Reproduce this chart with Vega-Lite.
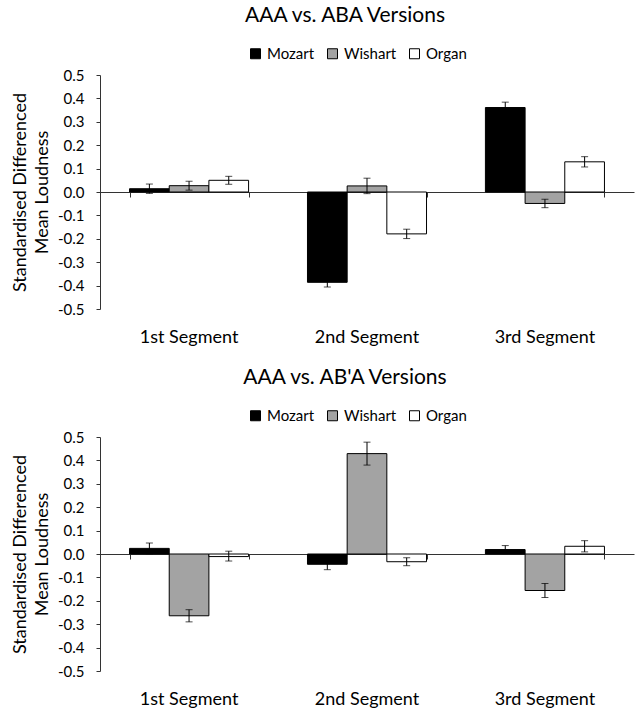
{
  "$schema": "https://vega.github.io/schema/vega-lite/v6.json",
  "background": "white",
  "padding": {"top": 5, "left": 11, "right": 5, "bottom": 0},
  "config": {
    "font": "Lato",
    "view": {"stroke": null},
    "axis": {"labelFont": "Lato", "titleFont": "Lato", "labelColor": "black", "titleColor": "black"},
    "legend": {"labelFont": "Lato"},
    "title": {"font": "Lato", "fontWeight": "normal", "color": "black"}
  },
  "datasets": {
    "top": [
      {"segment": "1st Segment", "instrument": "Mozart", "value": 0.014, "lo": -0.006, "hi": 0.034},
      {"segment": "1st Segment", "instrument": "Wishart", "value": 0.027, "lo": 0.008, "hi": 0.046},
      {"segment": "1st Segment", "instrument": "Organ", "value": 0.05, "lo": 0.033, "hi": 0.067},
      {"segment": "2nd Segment", "instrument": "Mozart", "value": -0.386, "lo": -0.406, "hi": -0.366},
      {"segment": "2nd Segment", "instrument": "Wishart", "value": 0.026, "lo": -0.007, "hi": 0.059},
      {"segment": "2nd Segment", "instrument": "Organ", "value": -0.179, "lo": -0.199, "hi": -0.159},
      {"segment": "3rd Segment", "instrument": "Mozart", "value": 0.361, "lo": 0.338, "hi": 0.384},
      {"segment": "3rd Segment", "instrument": "Wishart", "value": -0.049, "lo": -0.067, "hi": -0.031},
      {"segment": "3rd Segment", "instrument": "Organ", "value": 0.129, "lo": 0.107, "hi": 0.151}
    ],
    "bottom": [
      {"segment": "1st Segment", "instrument": "Mozart", "value": 0.024, "lo": 0.001, "hi": 0.047},
      {"segment": "1st Segment", "instrument": "Wishart", "value": -0.264, "lo": -0.29, "hi": -0.238},
      {"segment": "1st Segment", "instrument": "Organ", "value": -0.011, "lo": -0.03, "hi": 0.012},
      {"segment": "2nd Segment", "instrument": "Mozart", "value": -0.044, "lo": -0.067, "hi": -0.021},
      {"segment": "2nd Segment", "instrument": "Wishart", "value": 0.429, "lo": 0.38, "hi": 0.478},
      {"segment": "2nd Segment", "instrument": "Organ", "value": -0.033, "lo": -0.05, "hi": -0.016},
      {"segment": "3rd Segment", "instrument": "Mozart", "value": 0.019, "lo": 0.002, "hi": 0.036},
      {"segment": "3rd Segment", "instrument": "Wishart", "value": -0.156, "lo": -0.186, "hi": -0.126},
      {"segment": "3rd Segment", "instrument": "Organ", "value": 0.033, "lo": 0.009, "hi": 0.057}
    ]
  },
  "vconcat": [
    {
      "width": 534,
      "height": 234,
      "title": {"text": "AAA vs. ABA Versions", "fontSize": 21, "offset": 20, "dx": -22},
      "data": {"name": "top"},
      "resolve": {"axis": {"x": "independent"}},
      "encoding": {
        "x": {"field": "segment", "type": "nominal", "scale": {"paddingInner": 0.331, "paddingOuter": 0.166}},
        "xOffset": {"field": "instrument", "type": "nominal", "sort": ["Mozart", "Wishart", "Organ"], "scale": {"paddingInner": 0, "paddingOuter": 0}}
      },
      "layer": [
        {
          "mark": {"type": "bar", "stroke": "black", "strokeWidth": 1},
          "encoding": {
            "x": {"field": "segment", "type": "nominal", "axis": {"title": null, "orient": "bottom", "domain": false, "ticks": false, "labelAngle": 0, "labelFontSize": 18, "labelPadding": 19}},
            "y": {"field": "value", "type": "quantitative", "scale": {"domain": [-0.5, 0.5], "nice": false},
              "axis": {"title": ["Standardised Differenced", "Mean Loudness"], "titleFontSize": 18, "titleFontWeight": "normal", "titleLineHeight": 22, "titlePadding": 6, "values": [-0.5, -0.4, -0.3, -0.2, -0.1, 0, 0.1, 0.2, 0.3, 0.4, 0.5], "labelExpr": "replace(format(datum.value, '.1f'), '\u2212', '-')", "labelOverlap": false, "grid": false, "labelFontSize": 15, "domainColor": "#333", "tickColor": "#333", "tickSize": 4, "labelPadding": 12}},
            "fill": {"field": "instrument", "type": "nominal", "scale": {"domain": ["Mozart", "Wishart", "Organ"], "range": ["#000000", "#a3a3a3", "#ffffff"]},
              "legend": {"title": null, "orient": "none", "direction": "horizontal", "legendX": 148, "legendY": -29, "symbolType": "square", "symbolSize": 100, "symbolStrokeColor": "black", "symbolStrokeWidth": 1, "labelFontSize": 15, "labelOffset": 4, "columnPadding": 10}}
          }
        },
        {
          "mark": {"type": "rule", "color": "black", "strokeWidth": 1},
          "encoding": {
            "x": {"field": "segment", "type": "nominal", "axis": {"title": null, "orient": "bottom", "offset": -117, "labels": false, "domain": true, "ticks": true, "tickBand": "extent", "tickSize": 5, "domainColor": "#333", "tickColor": "#333"}},
            "y": {"field": "lo", "type": "quantitative",
              "axis": {"title": ["Standardised Differenced", "Mean Loudness"], "titleFontSize": 18, "titleFontWeight": "normal", "titleLineHeight": 22, "titlePadding": 6, "values": [-0.5, -0.4, -0.3, -0.2, -0.1, 0, 0.1, 0.2, 0.3, 0.4, 0.5], "labelExpr": "replace(format(datum.value, '.1f'), '\u2212', '-')", "labelOverlap": false, "grid": false, "labelFontSize": 15, "domainColor": "#333", "tickColor": "#333", "tickSize": 4, "labelPadding": 12}},
            "y2": {"field": "hi"}
          }
        },
        {
          "transform": [{"fold": ["lo", "hi"], "as": ["end", "pos"]}],
          "mark": {"type": "tick", "color": "black", "size": 7, "thickness": 1},
          "encoding": {
            "x": {"field": "segment", "type": "nominal", "axis": null},
            "y": {"field": "pos", "type": "quantitative",
              "axis": {"title": ["Standardised Differenced", "Mean Loudness"], "titleFontSize": 18, "titleFontWeight": "normal", "titleLineHeight": 22, "titlePadding": 6, "values": [-0.5, -0.4, -0.3, -0.2, -0.1, 0, 0.1, 0.2, 0.3, 0.4, 0.5], "labelExpr": "replace(format(datum.value, '.1f'), '\u2212', '-')", "labelOverlap": false, "grid": false, "labelFontSize": 15, "domainColor": "#333", "tickColor": "#333", "tickSize": 4, "labelPadding": 12}}
          }
        }
      ]
    },
    {
      "width": 534,
      "height": 234,
      "title": {"text": "AAA vs. AB'A Versions", "fontSize": 21, "offset": 20, "dx": -22},
      "data": {"name": "bottom"},
      "resolve": {"axis": {"x": "independent"}},
      "encoding": {
        "x": {"field": "segment", "type": "nominal", "scale": {"paddingInner": 0.331, "paddingOuter": 0.166}},
        "xOffset": {"field": "instrument", "type": "nominal", "sort": ["Mozart", "Wishart", "Organ"], "scale": {"paddingInner": 0, "paddingOuter": 0}}
      },
      "layer": [
        {
          "mark": {"type": "bar", "stroke": "black", "strokeWidth": 1},
          "encoding": {
            "x": {"field": "segment", "type": "nominal", "axis": {"title": null, "orient": "bottom", "domain": false, "ticks": false, "labelAngle": 0, "labelFontSize": 18, "labelPadding": 19}},
            "y": {"field": "value", "type": "quantitative", "scale": {"domain": [-0.5, 0.5], "nice": false},
              "axis": {"title": ["Standardised Differenced", "Mean Loudness"], "titleFontSize": 18, "titleFontWeight": "normal", "titleLineHeight": 22, "titlePadding": 6, "values": [-0.5, -0.4, -0.3, -0.2, -0.1, 0, 0.1, 0.2, 0.3, 0.4, 0.5], "labelExpr": "replace(format(datum.value, '.1f'), '\u2212', '-')", "labelOverlap": false, "grid": false, "labelFontSize": 15, "domainColor": "#333", "tickColor": "#333", "tickSize": 4, "labelPadding": 12}},
            "fill": {"field": "instrument", "type": "nominal", "scale": {"domain": ["Mozart", "Wishart", "Organ"], "range": ["#000000", "#a3a3a3", "#ffffff"]},
              "legend": {"title": null, "orient": "none", "direction": "horizontal", "legendX": 148, "legendY": -29, "symbolType": "square", "symbolSize": 100, "symbolStrokeColor": "black", "symbolStrokeWidth": 1, "labelFontSize": 15, "labelOffset": 4, "columnPadding": 10}}
          }
        },
        {
          "mark": {"type": "rule", "color": "black", "strokeWidth": 1},
          "encoding": {
            "x": {"field": "segment", "type": "nominal", "axis": {"title": null, "orient": "bottom", "offset": -117, "labels": false, "domain": true, "ticks": true, "tickBand": "extent", "tickSize": 5, "domainColor": "#333", "tickColor": "#333"}},
            "y": {"field": "lo", "type": "quantitative",
              "axis": {"title": ["Standardised Differenced", "Mean Loudness"], "titleFontSize": 18, "titleFontWeight": "normal", "titleLineHeight": 22, "titlePadding": 6, "values": [-0.5, -0.4, -0.3, -0.2, -0.1, 0, 0.1, 0.2, 0.3, 0.4, 0.5], "labelExpr": "replace(format(datum.value, '.1f'), '\u2212', '-')", "labelOverlap": false, "grid": false, "labelFontSize": 15, "domainColor": "#333", "tickColor": "#333", "tickSize": 4, "labelPadding": 12}},
            "y2": {"field": "hi"}
          }
        },
        {
          "transform": [{"fold": ["lo", "hi"], "as": ["end", "pos"]}],
          "mark": {"type": "tick", "color": "black", "size": 7, "thickness": 1},
          "encoding": {
            "x": {"field": "segment", "type": "nominal", "axis": null},
            "y": {"field": "pos", "type": "quantitative",
              "axis": {"title": ["Standardised Differenced", "Mean Loudness"], "titleFontSize": 18, "titleFontWeight": "normal", "titleLineHeight": 22, "titlePadding": 6, "values": [-0.5, -0.4, -0.3, -0.2, -0.1, 0, 0.1, 0.2, 0.3, 0.4, 0.5], "labelExpr": "replace(format(datum.value, '.1f'), '\u2212', '-')", "labelOverlap": false, "grid": false, "labelFontSize": 15, "domainColor": "#333", "tickColor": "#333", "tickSize": 4, "labelPadding": 12}}
          }
        }
      ]
    }
  ],
  "spacing": 21,
  "resolve": {"legend": {"fill": "independent"}}
}
